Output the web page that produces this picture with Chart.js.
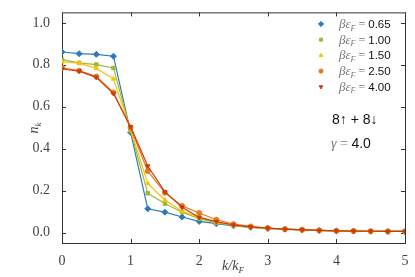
<!DOCTYPE html>
<html>
<head>
<meta charset="utf-8">
<script src="https://cdn.jsdelivr.net/npm/chart.js@4.4.0/dist/chart.umd.min.js"></script>
<style>
  html, body { margin: 0; padding: 0; background: #fff; }
  canvas { display: block; }
</style>
</head>
<body>
<canvas id="myChart" width="415" height="277"></canvas>
<script>
// momentum grid k/k_F
const kValues = [0, 0.25, 0.5, 0.75, 1, 1.25, 1.5, 1.75, 2, 2.25, 2.5, 2.75, 3, 3.25, 3.5, 3.75, 4, 4.25, 4.5, 4.75, 5]

// n_k for each beta*eps_F
const betaLabels = ['0.65', '1.00', '1.50', '2.50', '4.00']
const nk065 = [0.861, 0.853, 0.850, 0.841, 0.478, 0.113, 0.097, 0.074, 0.053, 0.042, 0.032, 0.025, 0.019, 0.016, 0.013, 0.010, 0.008, 0.007, 0.006, 0.005, 0.005]
const nk100 = [0.825, 0.809, 0.801, 0.785, 0.486, 0.187, 0.138, 0.097, 0.066, 0.046, 0.034, 0.026, 0.020, 0.016, 0.013, 0.010, 0.008, 0.007, 0.006, 0.005, 0.005]
const nk150 = [0.814, 0.808, 0.783, 0.733, 0.492, 0.234, 0.155, 0.102, 0.072, 0.050, 0.035, 0.026, 0.020, 0.016, 0.013, 0.010, 0.008, 0.007, 0.006, 0.005, 0.005]
const nk250 = [0.786, 0.772, 0.744, 0.668, 0.500, 0.293, 0.190, 0.127, 0.093, 0.061, 0.040, 0.029, 0.021, 0.016, 0.013, 0.010, 0.008, 0.007, 0.006, 0.005, 0.005]
const nk400 = [0.780, 0.770, 0.740, 0.663, 0.505, 0.317, 0.194, 0.121, 0.072, 0.052, 0.036, 0.027, 0.021, 0.016, 0.013, 0.010, 0.008, 0.007, 0.006, 0.005, 0.005]

const xTicks = [0, 1, 2, 3, 4, 5]
const yTicks = [0, 0.2, 0.4, 0.6, 0.8, 1.0]

const colors = ['#2b7bb9', '#9db935', '#f7c10e', '#e87a1e', '#cb3c0c']
const markers = ['rectRot', 'rect', 'triangle', 'circle', 'triangle']
const rotations = [0, 0, 0, 0, 180]
const allSeries = [nk065, nk100, nk150, nk250, nk400]

const serif = '"Liberation Serif", "DejaVu Serif", serif'
const sans = '"Liberation Sans", "DejaVu Sans", sans-serif'

function toPoints(arr) {
    return arr.map((v, i) => ({ x: kValues[i], y: v }))
}

const datasets = allSeries.map((s, i) => ({
    label: 'βεF = ' + betaLabels[i],
    data: toPoints(s),
    borderColor: colors[i],
    backgroundColor: colors[i],
    borderWidth: 1.2,
    pointStyle: markers[i],
    rotation: rotations[i],
    pointRadius: markers[i] == 'rectRot' ? 3 : 2.5,
    pointBorderWidth: 1,
    showLine: true,
    order: allSeries.length - i
}))

// drawing text with sub parts
function drawParts(ctx, parts, x, y) {
    for (const p of parts) {
        ctx.font = p.font
        ctx.fillStyle = p.color
        ctx.fillText(p.text, x, y + (p.dy || 0))
        x += ctx.measureText(p.text).width
    }
    return x
}
function partsWidth(ctx, parts) {
    let w = 0
    for (const p of parts) { ctx.font = p.font; w += ctx.measureText(p.text).width }
    return w
}

const framePlugin = {
    id: 'frame',
    beforeDatasetsDraw(chart) {
        const ctx = chart.ctx
        const a = chart.chartArea
        const xs = chart.scales.x, ys = chart.scales.y
        ctx.save()
        ctx.strokeStyle = '#333'
        ctx.lineWidth = 1
        ctx.strokeRect(a.left + 0.5, a.top + 0.5, a.right - a.left, a.bottom - a.top)
        ctx.beginPath()
        xTicks.forEach(v => {
            const px = Math.round(xs.getPixelForValue(v)) + 0.5
            ctx.moveTo(px, a.bottom); ctx.lineTo(px, a.bottom - 4)
            ctx.moveTo(px, a.top); ctx.lineTo(px, a.top + 4)
        })
        yTicks.forEach(v => {
            const py = Math.round(ys.getPixelForValue(v)) + 0.5
            ctx.moveTo(a.left, py); ctx.lineTo(a.left + 4, py)
            ctx.moveTo(a.right, py); ctx.lineTo(a.right - 4, py)
        })
        ctx.stroke()
        ctx.restore()
    },
    afterDraw(chart) {
        const ctx = chart.ctx
        ctx.save()
        ctx.textBaseline = 'alphabetic'
        ctx.textAlign = 'left'

        // legend
        betaLabels.forEach((b, i) => {
            const cy = 24 + i * 15.7
            ctx.fillStyle = colors[i]
            ctx.strokeStyle = colors[i]
            Chart.helpers.drawPoint(ctx, {
                pointStyle: markers[i], rotation: rotations[i],
                radius: markers[i] == 'rectRot' ? 2.6 : 2.1, borderWidth: 1
            }, 321, cy)
            drawParts(ctx, [
                { text: 'βε', font: 'italic 13px ' + serif, color: '#777' },
                { text: 'F', font: 'italic 8px ' + serif, color: '#777', dy: 2.5 },
                { text: ' = ', font: '12px ' + serif, color: '#777' },
                { text: b, font: '11.5px ' + sans, color: '#111' }
            ], 339, cy + 4)
        })

        // annotations
        drawParts(ctx, [{ text: '8↑ + 8↓', font: '14px ' + sans, color: '#111' }], 332, 124)
        drawParts(ctx, [
            { text: 'γ', font: 'italic 14px ' + serif, color: '#777' },
            { text: ' = ', font: '14px ' + serif, color: '#777' },
            { text: '4.0', font: '14px ' + sans, color: '#111' }
        ], 331, 148)

        // axis titles
        const xt = [
            { text: 'k/k', font: 'italic 14px ' + serif, color: '#444' },
            { text: 'F', font: 'italic 9px ' + serif, color: '#444', dy: 3 }
        ]
        drawParts(ctx, xt, 233 - partsWidth(ctx, xt) / 2, 270)

        const yt = [
            { text: 'n', font: 'italic 14px ' + serif, color: '#444' },
            { text: 'k', font: 'italic 9px ' + serif, color: '#444', dy: 3 }
        ]
        ctx.translate(38, 128)
        ctx.rotate(-Math.PI / 2)
        drawParts(ctx, yt, -partsWidth(ctx, yt) / 2, 0)
        ctx.restore()
    }
}

const ctx = document.getElementById('myChart').getContext('2d')
new Chart(ctx, {
    type: 'scatter',
    data: { datasets: datasets },
    options: {
        responsive: false,
        animation: false,
        devicePixelRatio: 1,
        layout: { padding: { top: 10, right: 10, left: 0, bottom: 0 } },
        plugins: { legend: { display: false }, tooltip: { enabled: false } },
        scales: {
            x: {
                type: 'linear',
                min: 0,
                max: 5,
                afterBuildTicks: s => { s.ticks = xTicks.map(v => ({ value: v })) },
                afterFit: s => { s.height = 34 },
                grid: { display: false },
                border: { display: false },
                ticks: {
                    padding: 2,
                    color: '#444',
                    font: { family: serif, size: 14 },
                    maxRotation: 0,
                    callback: v => String(v)
                }
            },
            y: {
                type: 'linear',
                min: -0.05,
                max: 1.05,
                afterBuildTicks: s => { s.ticks = yTicks.map(v => ({ value: v })) },
                afterFit: s => { s.width = 62 },
                grid: { display: false },
                border: { display: false },
                ticks: {
                    padding: 4,
                    color: '#444',
                    font: { family: serif, size: 14 },
                    callback: v => v.toFixed(1)
                }
            }
        }
    },
    plugins: [framePlugin]
})
</script>
</body>
</html>
